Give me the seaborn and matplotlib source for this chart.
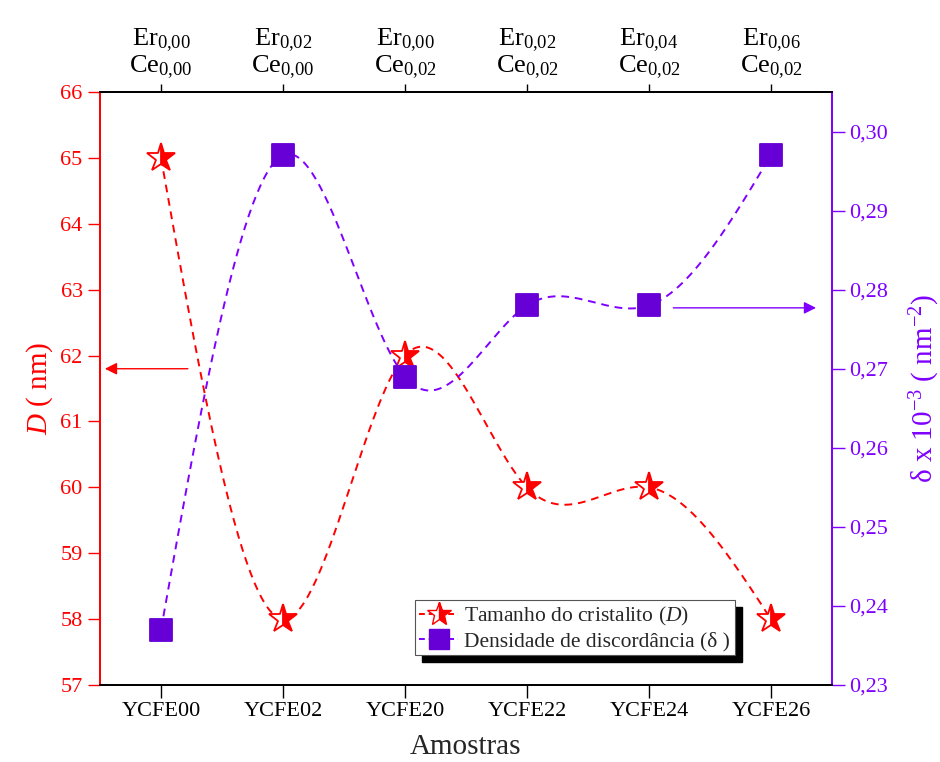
import numpy as np
import pandas as pd
import matplotlib
matplotlib.use("Agg")
import matplotlib.pyplot as plt
import seaborn as sns
from matplotlib.ticker import FuncFormatter, MultipleLocator
from matplotlib.patches import Rectangle
from matplotlib.lines import Line2D

samples = ["YCFE00", "YCFE02", "YCFE20", "YCFE22", "YCFE24", "YCFE26"]
er_sub = ["0,00", "0,02", "0,00", "0,02", "0,04", "0,06"]
ce_sub = ["0,00", "0,00", "0,02", "0,02", "0,02", "0,02"]
crystallite_D = [65, 58, 62, 60, 60, 58]
dislocation_delta = [0.237, 0.297, 0.269, 0.278, 0.278, 0.297]

RED = "#FF0000"
PURPLE = "#7F00FF"
SQUARE = "#6600D6"

sns.set_theme(style="white")
plt.rcParams["font.family"] = ["Liberation Serif", "DejaVu Serif"]
plt.rcParams["mathtext.fontset"] = "custom"
plt.rcParams["mathtext.rm"] = "Liberation Serif"
plt.rcParams["mathtext.it"] = "Liberation Serif:italic"
plt.rcParams["mathtext.bf"] = "Liberation Serif:bold"


def natural_spline(x, y, n=300):
    x = np.asarray(x, float); y = np.asarray(y, float)
    m = len(x); h = np.diff(x)
    A = np.zeros((m, m)); b = np.zeros(m)
    A[0, 0] = A[-1, -1] = 1
    for i in range(1, m - 1):
        A[i, i - 1] = h[i - 1]; A[i, i] = 2 * (h[i - 1] + h[i]); A[i, i + 1] = h[i]
        b[i] = 3 * ((y[i + 1] - y[i]) / h[i] - (y[i] - y[i - 1]) / h[i - 1])
    c = np.linalg.solve(A, b)
    xs = np.linspace(x[0], x[-1], n); ys = np.empty_like(xs)
    for k, xv in enumerate(xs):
        i = min(np.searchsorted(x, xv, side="right") - 1, m - 2)
        dx = xv - x[i]
        bi = (y[i + 1] - y[i]) / h[i] - h[i] * (2 * c[i] + c[i + 1]) / 3
        di = (c[i + 1] - c[i]) / (3 * h[i])
        ys[k] = y[i] + bi * dx + c[i] * dx ** 2 + di * dx ** 3
    return xs, ys


xpos = np.arange(len(samples))
df = pd.DataFrame({"x": xpos, "D": crystallite_D, "delta": dislocation_delta})
sx, sD = natural_spline(xpos, crystallite_D)
_, sd = natural_spline(xpos, dislocation_delta)
curve = pd.DataFrame({"x": sx, "D": sD, "delta": sd})

fig, ax = plt.subplots(figsize=(9.4, 7.62), dpi=100)
fig.subplots_adjust(left=0.1064, right=0.885, top=0.8793, bottom=0.101)
ax2 = ax.twinx()

sns.lineplot(data=curve, x="x", y="D", ax=ax, color=RED, linestyle=(0, (4, 3)), lw=1.4, zorder=2)
ax.plot(df["x"], df["D"], linestyle="none", marker="*", ms=21, mec=RED, mfc=RED,
        fillstyle="right", markerfacecoloralt="white", mew=1.3, zorder=4)
sns.lineplot(data=curve, x="x", y="delta", ax=ax2, color=PURPLE, linestyle=(0, (4, 3)), lw=1.4, zorder=2)
sns.scatterplot(data=df, x="x", y="delta", ax=ax2, marker="s", s=270, color=SQUARE,
                edgecolor=SQUARE, zorder=3)

ax.set_xlim(-0.5, 5.5)
ax.set_ylim(57, 66)
ax2.set_ylim(0.23, 0.305)
ax.set_xticks(xpos)
ax.set_xticklabels(samples, fontsize=16)
ax.set_xlabel("Amostras", fontsize=21, labelpad=9)
ax.yaxis.set_major_locator(MultipleLocator(1))
ax2.yaxis.set_major_locator(MultipleLocator(0.01))
ax2.yaxis.set_major_formatter(FuncFormatter(lambda v, p: f"{v:.2f}".replace(".", ",")))
ax.set_ylabel(r"$\mathit{D}$ ( nm)", fontsize=21, color=RED, labelpad=4)
ax2.set_ylabel(r"δ x 10$^{-3}$ ( nm$^{-2}$)", fontsize=21, color=PURPLE, labelpad=14)

ax.tick_params(axis="x", direction="out", length=9, width=1, colors="black", labelsize=16, bottom=True)
ax.tick_params(axis="y", direction="out", length=9, width=1, colors=RED, labelsize=16, left=True)
ax2.tick_params(axis="y", direction="out", length=9, width=1, colors=PURPLE, labelsize=16, right=True)

for a in (ax, ax2):
    for s in a.spines.values():
        s.set_visible(True)
        s.set_linewidth(1.3)
        s.set_color("black")
ax2.spines["left"].set_color(RED)
ax2.spines["right"].set_color(PURPLE)
ax.spines["left"].set_color(RED)
ax.spines["right"].set_color(PURPLE)

top = ax.secondary_xaxis("top")
top.set_xticks(xpos)
top_labels = []
for e, c in zip(er_sub, ce_sub):
    e_m = e.replace(",", "{,}")
    c_m = c.replace(",", "{,}")
    top_labels.append(rf"$\mathrm{{Er}}_{{{e_m}}}$" + "\n" + rf"$\mathrm{{Ce}}_{{{c_m}}}$")
top.set_xticklabels(top_labels, fontsize=19, linespacing=0.95)
top.tick_params(direction="out", length=6, width=1, colors="black", pad=2)
top.spines["top"].set_linewidth(1.3)

ax.annotate("", xy=(-0.46, 61.8), xytext=(0.22, 61.8),
            arrowprops=dict(arrowstyle="-|>", color=RED, lw=1.0, mutation_scale=18, shrinkA=0, shrinkB=0))
ax2.annotate("", xy=(5.37, 0.2777), xytext=(4.2, 0.2777),
             arrowprops=dict(arrowstyle="-|>", color=PURPLE, lw=1.0, mutation_scale=18, shrinkA=0, shrinkB=0))

h1 = Line2D([], [], color=RED, linestyle=(0, (3, 2)), lw=1.4, marker="*", ms=18, mfc=RED, mec=RED,
            fillstyle="right", markerfacecoloralt="white")
h2 = Line2D([], [], color=PURPLE, linestyle=(0, (3, 2)), lw=1.4, marker="s", ms=14, mfc=SQUARE, mec=SQUARE)
for a in (ax, ax2):
    lg = a.get_legend()
    if lg:
        lg.remove()
leg = ax2.legend([h1, h2], [r"Tamanho do cristalito ($\mathit{D}$)", "Densidade de discordância (δ )"],
                 loc="lower right", bbox_to_anchor=(0.867, 0.05), borderaxespad=0, fontsize=15.5,
                 frameon=True, fancybox=False, edgecolor="#555555", framealpha=1, handlelength=1.8,
                 handletextpad=0.3, borderpad=0.2, labelspacing=0.15)
leg.get_frame().set_linewidth(0.8)
leg.set_zorder(10)

fig.canvas.draw()
bb = leg.get_window_extent()
shadow = Rectangle((bb.x0 + 7, bb.y0 - 7), bb.width, bb.height, transform=None,
                   facecolor="black", edgecolor="black", zorder=9)
ax2.add_artist(shadow)

fig.savefig("out.png", dpi=100)
